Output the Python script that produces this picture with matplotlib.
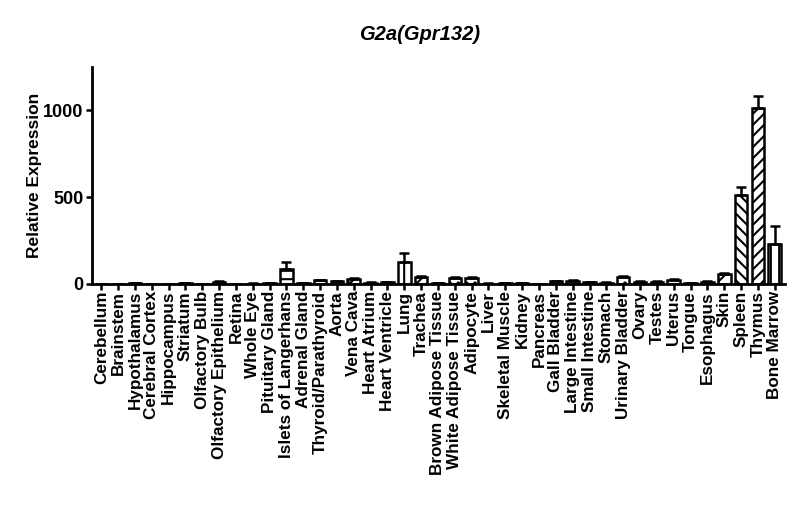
import numpy as np
import matplotlib
matplotlib.use("Agg")
import matplotlib.pyplot as plt

plt.rcParams['font.family'] = ['Liberation Sans', 'DejaVu Sans']
plt.rcParams['font.weight'] = 'bold'
plt.rcParams['hatch.linewidth'] = 1.5

tissues = ["Cerebellum", "Brainstem", "Hypothalamus", "Cerebral Cortex", "Hippocampus",
           "Striatum", "Olfactory Bulb", "Olfactory Epithelium", "Retina", "Whole Eye",
           "Pituitary Gland", "Islets of Langerhans", "Adrenal Gland", "Thyroid/Parathyroid",
           "Aorta", "Vena Cava", "Heart Atrium", "Heart Ventricle", "Lung", "Trachea",
           "Brown Adipose Tissue", "White Adipose Tissue", "Adipocyte", "Liver",
           "Skeletal Muscle", "Kidney", "Pancreas", "Gall Bladder", "Large Intestine",
           "Small Intestine", "Stomach", "Urinary Bladder", "Ovary", "Testes", "Uterus",
           "Tongue", "Esophagus", "Skin", "Spleen", "Thymus", "Bone Marrow"]

expr = [1, 1, 3, 1, 1, 3, 1, 12, 1, 2,
        3, 85, 5, 20, 15, 30, 8, 10, 125, 40,
        5, 35, 35, 2, 3, 5, 1, 15, 18, 10,
        8, 40, 12, 12, 25, 5, 12, 55, 515, 1015,
        232]

err = [0, 0, 1, 0, 0, 1, 0, 3, 0, 1,
       1, 40, 1, 4, 3, 5, 2, 2, 52, 5,
       1, 6, 6, 1, 1, 1, 0, 3, 4, 2,
       2, 8, 3, 3, 6, 1, 3, 6, 42, 68,
       102]

hatches = ["", "", "", "", "", "", "", "", "", "",
           "", "--", "", "", "", "xx", "", "", "||", "//",
           "", "..", "..", "", "", "", "", "", "", "",
           "", "..", "", "", "", "", "", "//", "\\\\\\", "///",
           "||"]

fig = plt.figure(figsize=(8, 5.22), dpi=100)
ax = fig.add_axes([0.115, 0.456, 0.866, 0.416])

x = np.arange(len(tissues))
bars = ax.bar(x, expr, width=0.75, color="white", edgecolor="black", linewidth=1.8)
for b, h in zip(bars, hatches):
    b.set_hatch(h)
ax.errorbar(x, expr, yerr=[np.zeros(len(err)), err], fmt="none", ecolor="black",
            elinewidth=1.8, capsize=3.5, capthick=1.8)

ax.set_xlim(-0.55, len(tissues) - 0.4)
ax.set_ylim(0, 1250)
ax.set_yticks([0, 500, 1000])
ax.set_xticks(x)
ax.set_xticklabels(tissues, rotation=90, fontsize=12.3, fontweight="bold")
ax.tick_params(axis="y", labelsize=13, width=1.8, length=4, pad=2)
ax.tick_params(axis="x", width=1.8, length=4, pad=1)
for s in ["top", "right"]:
    ax.spines[s].set_visible(False)
for s in ["left", "bottom"]:
    ax.spines[s].set_linewidth(2)
ax.set_ylabel("Relative Expression", fontsize=12.5, fontweight="bold", labelpad=1)

fig.text(0.525, 0.933, "G2a(Gpr132)", ha="center", va="center", fontsize=14.5,
         fontweight="bold", fontstyle="italic")

fig.savefig("out.png", dpi=100)
